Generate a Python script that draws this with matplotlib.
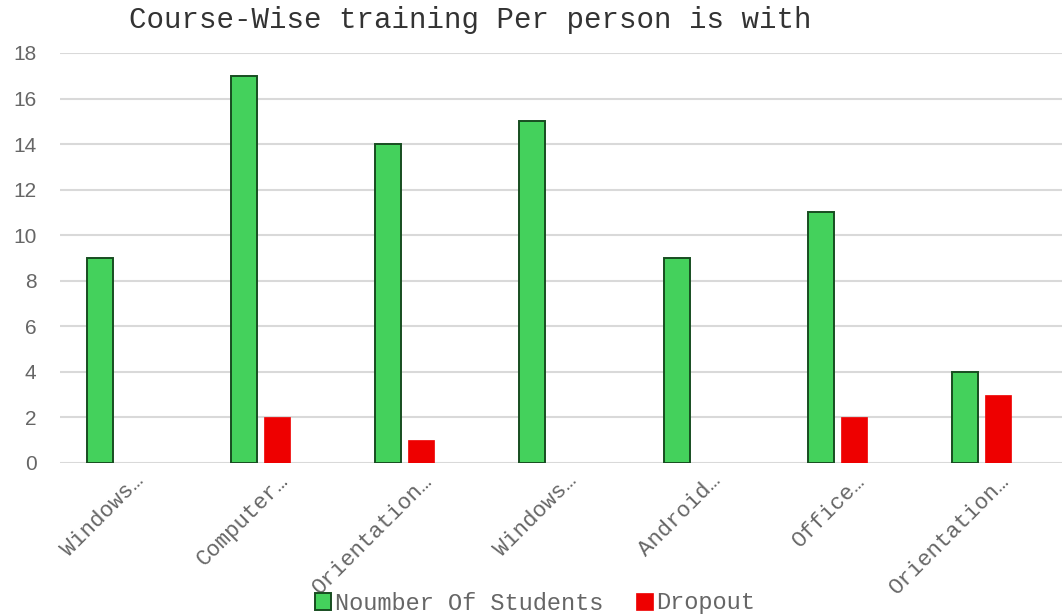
import numpy as np
import matplotlib.pyplot as plt
import matplotlib.transforms as mtransforms

# data
courses = ['Windows…', 'Computer…', 'Orientation…', 'Windows…',
           'Android…', 'Office…', 'Orientation…']
students = [9, 17, 14, 15, 9, 11, 4]
dropout = [0, 2, 1, 0, 0, 2, 3]

mono = 'Liberation Mono'
sans = 'Liberation Sans'
grey = '#666666'

fig = plt.figure(figsize=(10.62, 6.16), dpi=100)
ax = fig.add_axes([60 / 1062, 153 / 616, 1 - 60 / 1062, 410 / 616])

x = np.arange(len(courses))
w = 0.18
ax.bar(x - 0.114, students, w, color='#44D15C', edgecolor='#174D20',
       linewidth=1.4, label='Noumber Of Students', zorder=3)
ax.bar(x + 0.114, dropout, w, color='#EE0000', edgecolor='#EE0000',
       linewidth=0.5, label='Dropout', zorder=3)

ax.set_xlim(-0.388, 6.556)
ax.set_ylim(0, 18)
ax.set_yticks(range(0, 19, 2))
ax.yaxis.grid(True, color='#D9D9D9', linewidth=1.5, zorder=0)
ax.set_axisbelow(True)
for s in ax.spines.values():
    s.set_visible(False)
ax.tick_params(axis='both', length=0)
ax.tick_params(axis='y', pad=17, labelcolor=grey)
for lab in ax.get_yticklabels():
    lab.set_fontfamily(sans)
    lab.set_fontsize(15)

ax.set_xticks(x)
ax.set_xticklabels(courses, rotation=45, ha='right', va='center',
                   rotation_mode='anchor', fontfamily=mono, fontsize=16,
                   color=grey)
offset = mtransforms.ScaledTranslation(0.25, -0.1, fig.dpi_scale_trans)
for lab in ax.get_xticklabels():
    lab.set_transform(lab.get_transform() + offset)

fig.text(470 / 1062, 1 - 20 / 616, 'Course-Wise training Per person is with',
         ha='center', va='center', fontfamily=mono, fontsize=21, color='#333333')

leg = fig.legend(loc='center', bbox_to_anchor=(535 / 1062, 1 - 603 / 616),
                 ncol=2, frameon=False, prop={'family': mono, 'size': 17},
                 handlelength=0.7, handleheight=0.7, handletextpad=0.15,
                 columnspacing=1.4, labelcolor=grey)

fig.savefig('out.png', dpi=100, facecolor='white')
